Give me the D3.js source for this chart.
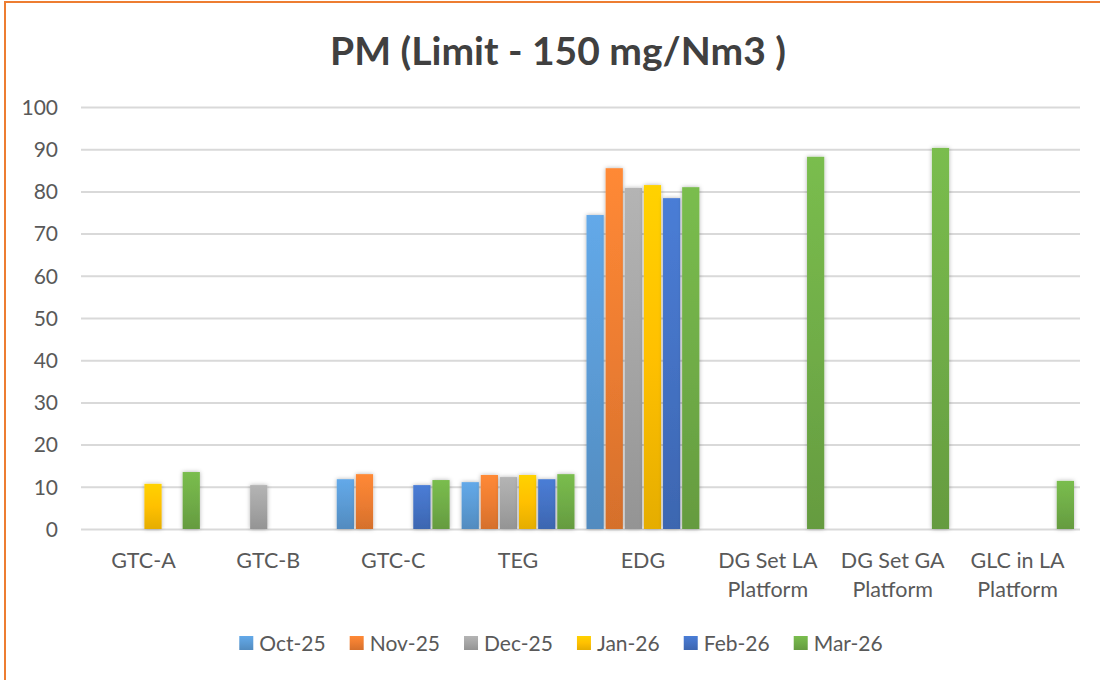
<!DOCTYPE html>
<html>
<head>
<meta charset="utf-8">
<script src="https://cdn.jsdelivr.net/npm/d3@7"></script>
<style>
  html, body { margin: 0; padding: 0; background: #fff; }
  svg { display: block; font-family: Lato, "Open Sans", sans-serif; }
</style>
</head>
<body>
<svg id="chart" width="1100" height="680"></svg>
<script>
const categories = ["GTC-A", "GTC-B", "GTC-C", "TEG", "EDG", "DG Set LA Platform", "DG Set GA Platform", "GLC in LA Platform"];
const seriesNames = ["Oct-25", "Nov-25", "Dec-25", "Jan-26", "Feb-26", "Mar-26"];
const seriesColors = ["#5B9BD5", "#ED7D31", "#A5A5A5", "#FFC000", "#4472C4", "#70AD47"];
const oct25 = [null, null, 11.8, 11.1, 74.4, null, null, null];
const nov25 = [null, null, 13.0, 12.8, 85.5, null, null, null];
const dec25 = [null, 10.4, null, 12.3, 80.8, null, null, null];
const jan26 = [10.7, null, null, 12.8, 81.5, null, null, null];
const feb26 = [null, null, 10.4, 11.8, 78.4, null, null, null];
const mar26 = [13.5, null, 11.6, 13.0, 81.0, 88.2, 90.3, 11.4];
const seriesValues = [oct25, nov25, dec25, jan26, feb26, mar26];
const yTicks = [0, 10, 20, 30, 40, 50, 60, 70, 80, 90, 100];
const title = "PM (Limit - 150 mg/Nm3 )";

const svg = d3.select("#chart");
const plot = { left: 81, right: 1080, top: 107, bottom: 529 };

// border
svg.append("rect").attr("x", 5).attr("y", 2).attr("width", 1200).attr("height", 800)
  .attr("fill", "none").attr("stroke", "#ED7D31").attr("stroke-width", 2);

// defs: gradients & shadow
const defs = svg.append("defs");
seriesColors.forEach((c, i) => {
  const g = defs.append("linearGradient").attr("id", "grad" + i)
    .attr("x1", 0).attr("y1", 0).attr("x2", 0).attr("y2", 1);
  g.append("stop").attr("offset", "0%").attr("stop-color", d3.color(c).brighter(0.25));
  g.append("stop").attr("offset", "50%").attr("stop-color", c);
  g.append("stop").attr("offset", "100%").attr("stop-color", d3.color(c).darker(0.3));
});
const f = defs.append("filter").attr("id", "shadow").attr("x", "-50%").attr("y", "-10%").attr("width", "200%").attr("height", "120%");
f.append("feDropShadow").attr("dx", 0).attr("dy", 0).attr("stdDeviation", 2)
  .attr("flood-color", "#000").attr("flood-opacity", 0.3);

const x0 = d3.scaleBand().domain(categories).range([plot.left, plot.right]).paddingInner(0).paddingOuter(0);
const x1 = d3.scaleBand().domain(seriesNames).range([6, x0.bandwidth() - 6]).paddingInner(0.1);
const y = d3.scaleLinear().domain([0, 100]).range([plot.bottom, plot.top]);

// gridlines
const grid = svg.append("g").attr("transform", `translate(${plot.left},0)`)
  .call(d3.axisLeft(y).tickValues(yTicks).tickSize(-(plot.right - plot.left)).tickFormat(""));
grid.select(".domain").remove();
grid.selectAll("line").attr("stroke", "#d9d9d9").attr("stroke-width", 2);

// y labels
const yAx = svg.append("g").attr("transform", `translate(58,0)`)
  .call(d3.axisLeft(y).tickValues(yTicks).tickSize(0).tickPadding(0));
yAx.select(".domain").remove();
yAx.selectAll("text").attr("fill", "#595959").style("font-size", "21px")
  .style("font-family", "Lato, sans-serif").attr("dy", "0.35em");

// bars
const data = [];
categories.forEach((c, ci) => {
  seriesNames.forEach((s, si) => {
    const v = seriesValues[si][ci];
    if (v != null) data.push({ cat: c, series: s, si, v });
  });
});
svg.append("g").selectAll("rect").data(data).join("rect")
  .attr("x", d => x0(d.cat) + x1(d.series))
  .attr("width", x1.bandwidth())
  .attr("y", d => y(d.v))
  .attr("height", d => y(0) - y(d.v))
  .attr("fill", d => `url(#grad${d.si})`)
  .attr("filter", "url(#shadow)");

// x labels
const xAx = svg.append("g").attr("transform", `translate(0,${plot.bottom})`)
  .call(d3.axisBottom(x0).tickSize(0).tickFormat(""));
xAx.select(".domain").remove();
xAx.selectAll(".tick").each(function(d) {
  const t = d3.select(this);
  t.select("text").remove();
  const lines = d.endsWith(" Platform") ? [d.replace(" Platform", ""), "Platform"] : [d];
  const txt = t.append("text").attr("text-anchor", "middle").attr("fill", "#595959")
    .style("font-size", "21.5px").style("font-family", "Lato, sans-serif");
  lines.forEach((l, i) => txt.append("tspan").attr("x", 0).attr("y", 39 + i * 29).text(l));
});

// title
svg.append("text").attr("x", 558).attr("y", 65).attr("text-anchor", "middle")
  .attr("fill", "#404040").style("font-size", "39px").style("font-weight", "bold")
  .style("font-family", "Lato, sans-serif").text(title);

// legend
const leg = svg.append("g");
let cx = 0;
seriesNames.forEach((s, i) => {
  const g = leg.append("g").attr("transform", `translate(${cx},0)`);
  g.append("rect").attr("x", 0).attr("y", 636).attr("width", 14).attr("height", 14)
    .attr("fill", `url(#grad${i})`);
  const t = g.append("text").attr("x", 20).attr("y", 650.5).attr("fill", "#595959")
    .style("font-size", "21px").style("font-family", "Lato, sans-serif").text(s);
  const w = t.node().getComputedTextLength();
  cx += 20 + w + 24;
});
const total = cx - 24;
leg.attr("transform", `translate(${561 - total / 2},0)`);
</script>
</body>
</html>
